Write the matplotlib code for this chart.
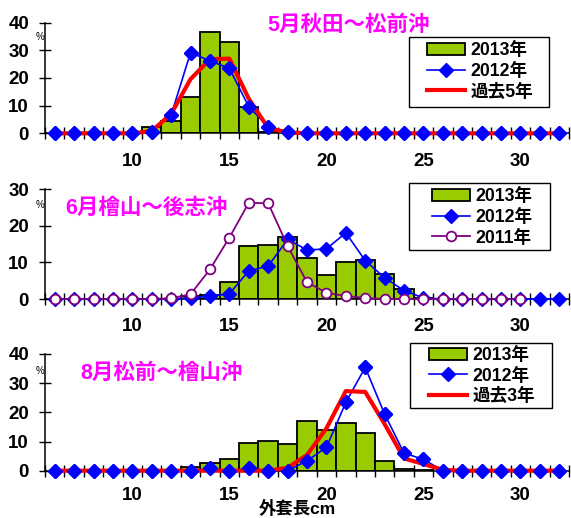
import numpy as np
import matplotlib
matplotlib.use("Agg")
import matplotlib.pyplot as plt
from matplotlib.patches import Rectangle

plt.rcParams['font.family'] = ['Liberation Sans', 'Noto Sans CJK JP']
plt.rcParams['font.weight'] = 'bold'

# mantle length classes (cm)
lengths = list(range(6, 33))

# May: Akita - Matsumae
may_2013 = [0, 0, 0, 0, 0, 2.2, 4.6, 13.0, 36.5, 33.1, 9.4, 0.6] + [0] * 15
may_2012 = [0, 0, 0, 0, 0, 0.6, 6.6, 29.2, 26.2, 23.5, 9.6, 2.4, 0.6] + [0] * 14
may_past5 = [0, 0, 0, 0, 0, 0.8, 7.0, 19.6, 26.8, 27.0, 12.5, 1.9, 0.3] + [0] * 14

# June: Hiyama - Shiribeshi
jun_2013 = [0] * 7 + [0.8, 1.2, 4.7, 14.5, 14.7, 17.0, 11.1, 6.7, 10.2, 10.6,
                      6.8, 2.8, 0.3] + [0] * 7
jun_2012 = [0] * 7 + [0.3, 0.8, 1.4, 7.7, 9.0, 16.3, 13.4, 13.7, 18.1, 10.5,
                      5.8, 2.3, 0.3] + [0] * 7
jun_2011 = [0] * 6 + [0.2, 1.3, 8.1, 16.8, 26.3, 26.2, 14.5, 4.6, 1.7, 0.8,
                      0.3] + [0] * 8 + [np.nan, np.nan]

# August: Matsumae - Hiyama
aug_2013 = [0] * 7 + [1.4, 2.5, 4.0, 9.4, 10.2, 9.0, 17.0, 13.9, 16.2, 12.8,
                      3.3, 0.5, 0.4] + [0] * 7
aug_2012 = [0] * 8 + [0.8, 0, 0.8, 0, 0, 3.4, 8.0, 23.4, 35.4, 19.4, 6.0,
                      3.9] + [0] * 7
aug_past3 = [0] * 12 + [1.0, 5.4, 14.5, 27.3, 27.0, 16.0, 4.2, 2.3,
                        0.3] + [0] * 6

GREEN = '#99CC00'
BLUE = '#0000FF'
RED = '#FF0000'
PURPLE = '#800080'
MAGENTA = '#FF00FF'

W, H = 571, 518
fig = plt.figure(figsize=(W / 100, H / 100), dpi=100)

def fx(px):
  return px / W

def fy(py):
  return 1 - py / H

left, width = fx(45), 524 / W
boxes = [
  (fy(133.3), 110.6 / H),
  (fy(299), 109.7 / H),
  (fy(470.7), 116.7 / H),
]

panels = [
  dict(title='5月秋田～松前沖', title_xy=(267, 25), ymax=40, pct_y=36.5,
       bars=may_2013, b2012=may_2012, third=may_past5, third_label='過去5年',
       third_kind='red', frame=(409, 37, 549, 107), leg=(427, 71.5), xpad=14),
  dict(title='6月檜山～後志沖', title_xy=(65, 208), ymax=30, pct_y=205,
       bars=jun_2013, b2012=jun_2012, third=jun_2011, third_label='2011年',
       third_kind='purple', frame=(409, 183, 550, 250), leg=(432, 217.5),
       xpad=14),
  dict(title='8月松前～檜山沖', title_xy=(80, 373), ymax=40, pct_y=371.5,
       bars=aug_2013, b2012=aug_2012, third=aug_past3, third_label='過去3年',
       third_kind='red', frame=(410, 343, 552, 408), leg=(429, 376), xpad=12),
]

for (bottom, height), p in zip(boxes, panels):
  ax = fig.add_axes([left, bottom, width, height])

  xs = [x for x, v in zip(lengths, p['bars']) if v > 0]
  hs = [v for v in p['bars'] if v > 0]
  h_bar = ax.bar(xs, hs, width=1.0, color=GREEN, edgecolor='black',
                 linewidth=1.3, zorder=2)

  h_2012, = ax.plot(lengths, p['b2012'], color=BLUE, lw=1.2, marker='D',
                    ms=7.5, mfc=BLUE, mec=BLUE, zorder=3, clip_on=False)

  if p['third_kind'] == 'red':
    h_third, = ax.plot(lengths, p['third'], color=RED, lw=3.0, zorder=3.5,
                       clip_on=False)
    # diamonds sit above the red line
    ax.plot(lengths, p['b2012'], ls='none', marker='D', ms=7.5, mfc=BLUE,
            mec=BLUE, zorder=4, clip_on=False)
  else:
    h_third, = ax.plot(lengths, p['third'], color=PURPLE, lw=1.3, marker='o',
                       ms=7, mfc='white', mec=PURPLE, mew=1.3,
                       zorder=4, clip_on=False)

  ax.set_xlim(5.5, 32.5)
  ax.set_ylim(0, p['ymax'])
  ax.set_yticks(np.arange(0, p['ymax'] + 1, 10))
  ax.set_xticks([10, 15, 20, 25, 30])
  ax.set_xticks(np.arange(5.5, 33, 1), minor=True)
  ax.tick_params(axis='x', which='major', length=0, pad=p['xpad'],
                 labelsize=13.5)
  ax.tick_params(axis='x', which='minor', direction='inout', length=9,
                 width=1)
  ax.tick_params(axis='y', direction='inout', length=9, width=1,
                 labelsize=13.5, pad=7)
  for lab in ax.get_xticklabels() + ax.get_yticklabels():
    lab.set_fontweight('bold')

  for s in ['top', 'right']:
    ax.spines[s].set_visible(False)
  for s in ['left', 'bottom']:
    ax.spines[s].set_linewidth(1.1)

  fig.text(fx(40), fy(p['pct_y']), '%', fontsize=7, fontweight='normal',
           ha='center', va='center')

  fig.text(fx(p['title_xy'][0]), fy(p['title_xy'][1]), p['title'],
           color=MAGENTA, fontsize=15.5, fontweight='bold',
           ha='left', va='center')

  # legend frame drawn by hand (wider side padding than matplotlib allows)
  x0, y0, x1, y1 = p['frame']
  frame = Rectangle((fx(x0), fy(y1)), (x1 - x0) / W, (y1 - y0) / H,
                    transform=fig.transFigure, facecolor='white',
                    edgecolor='black', lw=1.0, zorder=5, clip_on=False)
  ax.add_artist(frame)
  leg = ax.legend([h_bar, h_2012, h_third],
                  ['2013年', '2012年', p['third_label']],
                  loc='center left',
                  bbox_to_anchor=(fx(p['leg'][0]), fy(p['leg'][1])),
                  bbox_transform=fig.transFigure, borderaxespad=0,
                  borderpad=0, frameon=False,
                  prop={'size': 12.7, 'weight': 'bold'}, handlelength=2.15,
                  labelspacing=0.2, handletextpad=0.3)
  leg.set_zorder(6)

fig.text(fx(297), fy(517.5), '外套長cm', fontsize=12.5, fontweight='bold',
         ha='center', va='bottom')

fig.savefig('out.png', dpi=100)
